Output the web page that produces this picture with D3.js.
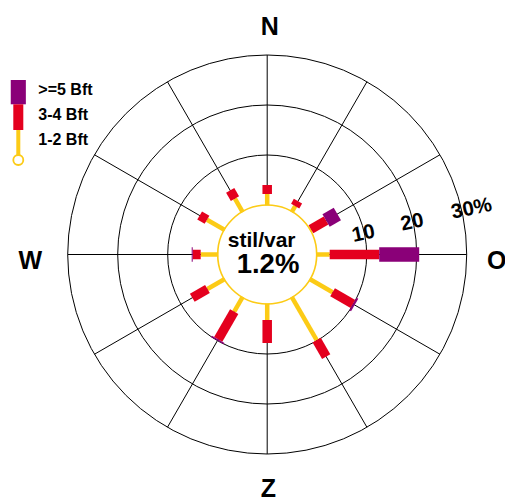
<!DOCTYPE html>
<html>
<head>
<meta charset="utf-8">
<script src="https://cdn.jsdelivr.net/npm/d3@7"></script>
<style>
  html, body { margin: 0; padding: 0; background: #fff; }
  svg { display: block; font-family: "Liberation Sans", Arial, Helvetica, sans-serif; }
</style>
</head>
<body>
<svg id="chart" width="505" height="498"></svg>
<script>
// ---- data ----
const directions = ["N", "NNO", "ONO", "O", "OZO", "ZZO", "Z", "ZZW", "WZW", "W", "WNW", "NNW"];
const angles = [0, 30, 60, 90, 120, 150, 180, 210, 240, 270, 300, 330];
const bft12 = [2.2, 1.3, 0.2, 2.6, 5.2, 9.9, 3.2, 3.3, 3.9, 3.4, 4.0, 3.0];
const bft34 = [1.8, 1.1, 3.5, 9.9, 4.7, 3.8, 4.6, 6.4, 3.5, 1.6, 1.7, 1.9];
const bft5  = [0.0, 0.0, 2.6, 8.0, 0.4, 0.0, 0.0, 0.3, 0.0, 0.2, 0.0, 0.0];
const ringTicks = [10, 20, 30];
const ringLabels = ["10", "20", "30%"];
const calmLabel = "stil/var";
const calmValue = "1.2%";
const legendLabels = [">=5 Bft", "3-4 Bft", "1-2 Bft"];
const compass = [
  { label: "N", x: 269.7, y: 34.5, anchor: "middle" },
  { label: "O", x: 487, y: 269, anchor: "start" },
  { label: "Z", x: 268.5, y: 497, anchor: "middle" },
  { label: "W", x: 30.3, y: 268.5, anchor: "middle" }
];

// ---- styles ----
const YELLOW = "#fccb16", RED = "#e4001e", PURPLE = "#8a0078";
const cx = 267.2, cy = 254.5;
const r = d3.scaleLinear().domain([0, 30]).range([49.5, 199.5]);
const W12 = 4.5, W34 = 9.5, W5 = 14.5;

const svg = d3.select("#chart");
const g = svg.append("g").attr("transform", `translate(${cx},${cy})`);

// spokes
g.selectAll("line.spoke").data(angles).join("line")
  .attr("class", "spoke")
  .attr("x1", d => r(0) * Math.sin(d * Math.PI / 180))
  .attr("y1", d => -r(0) * Math.cos(d * Math.PI / 180))
  .attr("x2", d => r(30) * Math.sin(d * Math.PI / 180))
  .attr("y2", d => -r(30) * Math.cos(d * Math.PI / 180))
  .attr("stroke", "#000").attr("stroke-width", 1);

// rings
g.selectAll("circle.ring").data(ringTicks).join("circle")
  .attr("class", "ring")
  .attr("r", d => r(d))
  .attr("fill", "none").attr("stroke", "#000").attr("stroke-width", 1);

// calm circle
g.append("circle").attr("r", r(0))
  .attr("fill", "#fff").attr("stroke", YELLOW).attr("stroke-width", 1.6);

// bars
const rows = angles.map((a, i) => ({ a, y: bft12[i], red: bft34[i], p: bft5[i] }));
const bars = g.selectAll("g.dir").data(rows).join("g")
  .attr("class", "dir")
  .attr("transform", d => `rotate(${d.a})`);

bars.filter(d => d.y > 0).append("rect")
  .attr("x", -W12 / 2).attr("width", W12)
  .attr("y", d => -r(d.y)).attr("height", d => r(d.y) - r(0) + 0.5)
  .attr("fill", YELLOW);
bars.filter(d => d.red > 0).append("rect")
  .attr("x", -W34 / 2).attr("width", W34)
  .attr("y", d => -r(d.y + d.red)).attr("height", d => r(d.y + d.red) - r(d.y))
  .attr("fill", RED);
bars.filter(d => d.p > 0).append("rect")
  .attr("x", -W5 / 2).attr("width", W5)
  .attr("y", d => -r(d.y + d.red + d.p)).attr("height", d => r(d.y + d.red + d.p) - r(d.y + d.red))
  .attr("fill", PURPLE);

// ring labels
const labAng = 77 * Math.PI / 180;
g.selectAll("text.ringlab").data(ringTicks).join("text")
  .attr("class", "ringlab")
  .attr("transform", (d, i) => {
    const rr = i === 2 ? r(d) + 10 : r(d) - 1;
    const x = rr * Math.sin(labAng), y = -rr * Math.cos(labAng);
    return `translate(${x},${y}) rotate(-12)`;
  })
  .attr("text-anchor", "middle")
  .attr("dy", "0.36em")
  .attr("font-size", 20.5).attr("font-weight", "bold")
  .text((d, i) => ringLabels[i]);

// calm text
g.append("text").attr("x", -5.5).attr("y", -7.8)
  .attr("text-anchor", "middle").attr("font-size", 21).attr("font-weight", "bold")
  .text(calmLabel);
g.append("text").attr("x", 0.8).attr("y", 18.8)
  .attr("text-anchor", "middle").attr("font-size", 27.5).attr("font-weight", "bold")
  .text(calmValue);

// compass labels
svg.selectAll("text.compass").data(compass).join("text")
  .attr("class", "compass")
  .attr("x", d => d.x).attr("y", d => d.y)
  .attr("text-anchor", d => d.anchor)
  .attr("font-size", 25).attr("font-weight", "bold")
  .text(d => d.label);

// legend
const lg = svg.append("g").attr("transform", "translate(18.3,0)");
lg.append("rect").attr("x", -W5 / 2 - 0.3).attr("width", W5 + 0.6).attr("y", 80).attr("height", 24.3).attr("fill", PURPLE);
lg.append("rect").attr("x", -5).attr("width", 10).attr("y", 104.3).attr("height", 25.7).attr("fill", RED);
lg.append("rect").attr("x", -2).attr("width", 4).attr("y", 130).attr("height", 25).attr("fill", YELLOW);
lg.append("circle").attr("cy", 160).attr("r", 5).attr("fill", "#fff").attr("stroke", YELLOW).attr("stroke-width", 1.8);
lg.selectAll("text.leg").data(legendLabels).join("text")
  .attr("class", "leg")
  .attr("x", 20).attr("y", (d, i) => 95 + i * 25)
  .attr("font-size", 16).attr("font-weight", "bold")
  .text(d => d);
</script>
</body>
</html>
